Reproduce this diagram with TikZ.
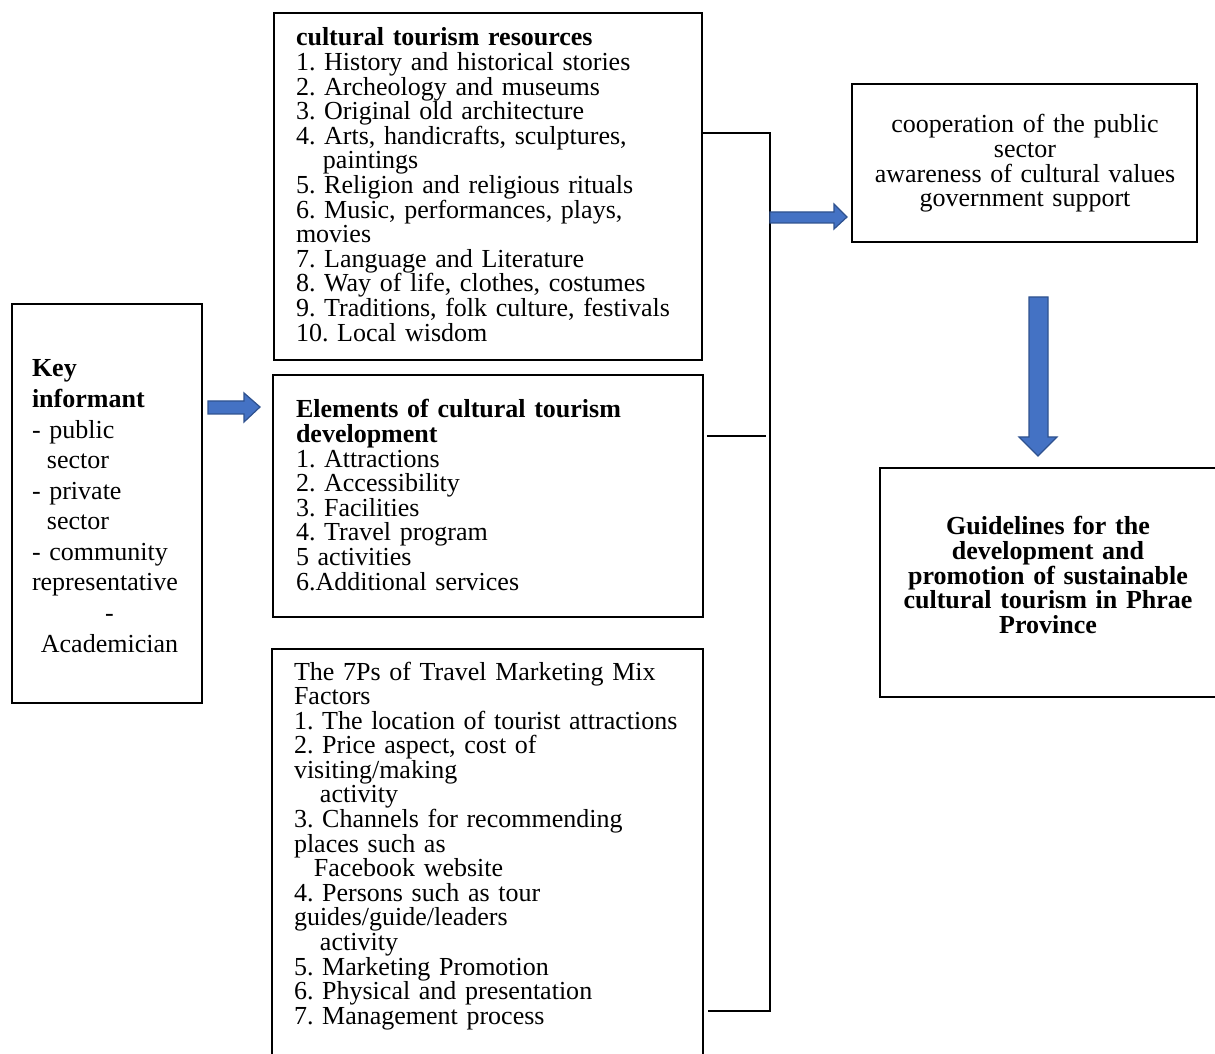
\documentclass[tikz,border=0pt]{standalone}
\usepackage{fontspec}
\setmainfont{Liberation Serif}
\lineskiplimit=-100pt
\frenchspacing
\definecolor{arrowblue}{HTML}{4472C4}
\definecolor{arrowedge}{HTML}{2F528F}
\tikzset{
  frame/.style={draw=black, line width=1.25pt, inner sep=0pt, outer sep=0pt},
  ghost/.style={inner sep=0pt, outer sep=0pt},
  boxline/.style={draw=black, line width=1.25pt, line cap=rect},
  conn/.style={draw=black, line width=1.25pt},
  txt/.style={inner sep=0pt, outer sep=0pt, align=left,
    font=\fontsize{14.8}{14}\selectfont},
  ctxt/.style={inner sep=0pt, outer sep=0pt, align=center,
    font=\fontsize{14.8}{14}\selectfont},
  btxt/.style={inner sep=0pt, outer sep=0pt, align=center,
    font=\fontsize{14.8}{14}\selectfont\bfseries},
  keytxt/.style={inner sep=0pt, outer sep=0pt, align=left,
    font=\fontsize{14.8}{17.4}\selectfont},
  blockarrow/.style={fill=arrowblue, draw=arrowedge, line width=0.7pt, line join=miter}
}
\begin{document}
\begin{tikzpicture}[x=0.02cm, y=-0.02cm]
\useasboundingbox (0,0) rectangle (1215,1054);

% ---- boxes
\node[frame, anchor=north west, minimum width=3.8cm, minimum height=7.98cm] (key) at (12,304) {};
\node[frame, anchor=north west, minimum width=8.56cm, minimum height=6.94cm] (res) at (274,13) {};
\node[frame, anchor=north west, minimum width=8.6cm, minimum height=4.84cm] (elem) at (273,375) {};
\node[ghost, anchor=north west, minimum width=8.62cm, minimum height=8.1cm] (mix) at (272,649) {};
\draw[boxline] (mix.south west) -- (mix.north west) -- (mix.north east) -- (mix.south east);
\node[frame, anchor=north west, minimum width=6.9cm, minimum height=3.16cm] (coop) at (852,84) {};
\node[ghost, anchor=north west, minimum width=6.7cm, minimum height=4.58cm] (guide) at (880,468) {};
\draw[boxline] (guide.north east) -- (guide.north west) -- (guide.south west) -- (guide.south east);

% ---- texts
\node[keytxt, anchor=base west, text width=3.1cm] (keytext) at (32,377) {%
\textbf{Key}\\
\textbf{informant}\\
- public\\
\hspace*{0.3cm}sector\\
- private\\
\hspace*{0.3cm}sector\\
- community\\
representative\\
\hspace*{\fill}-\hspace*{\fill}\hspace*{0.15cm}\\
\hspace*{\fill}Academician\hspace*{\fill}\hspace*{0.15cm}};

\node[txt, anchor=base west, text width=8cm] (restext) at (296,46) {%
\textbf{cultural tourism resources}\\
1. History and historical stories\\
2. Archeology and museums\\
3. Original old architecture\\
4. Arts, handicrafts, sculptures,\\
\hspace*{0.54cm}paintings\\
5. Religion and religious rituals\\
6. Music, performances, plays,\\
movies\\
7. Language and Literature\\
8. Way of life, clothes, costumes\\
9. Traditions, folk culture, festivals\\
10. Local wisdom};

\node[txt, anchor=base west, text width=8cm] (elemtext) at (296,418) {%
\textbf{Elements of cultural tourism}\\
\textbf{development}\\
1. Attractions\\
2. Accessibility\\
3. Facilities\\
4. Travel program\\
5 activities\\
6.Additional services};

\node[txt, anchor=base west, text width=8cm] (mixtext) at (294,680) {%
The 7Ps of Travel Marketing Mix\\
Factors\\
1. The location of tourist attractions\\
2. Price aspect, cost of\\
visiting/making\\
\hspace*{0.52cm}activity\\
3. Channels for recommending\\
places such as\\
\hspace*{0.4cm}Facebook website\\
4. Persons such as tour\\
guides/guide/leaders\\
\hspace*{0.52cm}activity\\
5. Marketing Promotion\\
6. Physical and presentation\\
7. Management process};

\node[ctxt, anchor=base, text width=6.7cm] (cooptext) at (1025,133) {%
cooperation of the public\\
sector\\
awareness of cultural values\\
government support};

\node[btxt, anchor=base, text width=6.4cm] (guidetext) at (1048,535) {%
Guidelines for the\\
development and\\
promotion of sustainable\\
cultural tourism in Phrae\\
Province};

% ---- bracket connector
\coordinate (busT) at (770,133);
\coordinate (busB) at (770,1011);
\coordinate (busM) at (766,436);
\draw[conn] (res.east |- busT) -- (busT) -- (busB) -- ([xshift=0.1cm]mix.east |- busB);
\draw[conn] ([xshift=0.08cm]elem.east |- busM) -- (busM);

% ---- block arrows
\path[blockarrow] (208,401) -- (244,401) -- (244,393) -- (260,407) -- (244,422) -- (244,414) -- (208,414) -- cycle;
\path[blockarrow] (770,212) -- (834,212) -- (834,204) -- (847,217) -- (834,229) -- (834,223) -- (770,223) -- cycle;
\path[blockarrow] (1029,297) -- (1048,297) -- (1048,437) -- (1057,437) -- (1038,456) -- (1019,437) -- (1029,437) -- cycle;
\end{tikzpicture}
\end{document}
